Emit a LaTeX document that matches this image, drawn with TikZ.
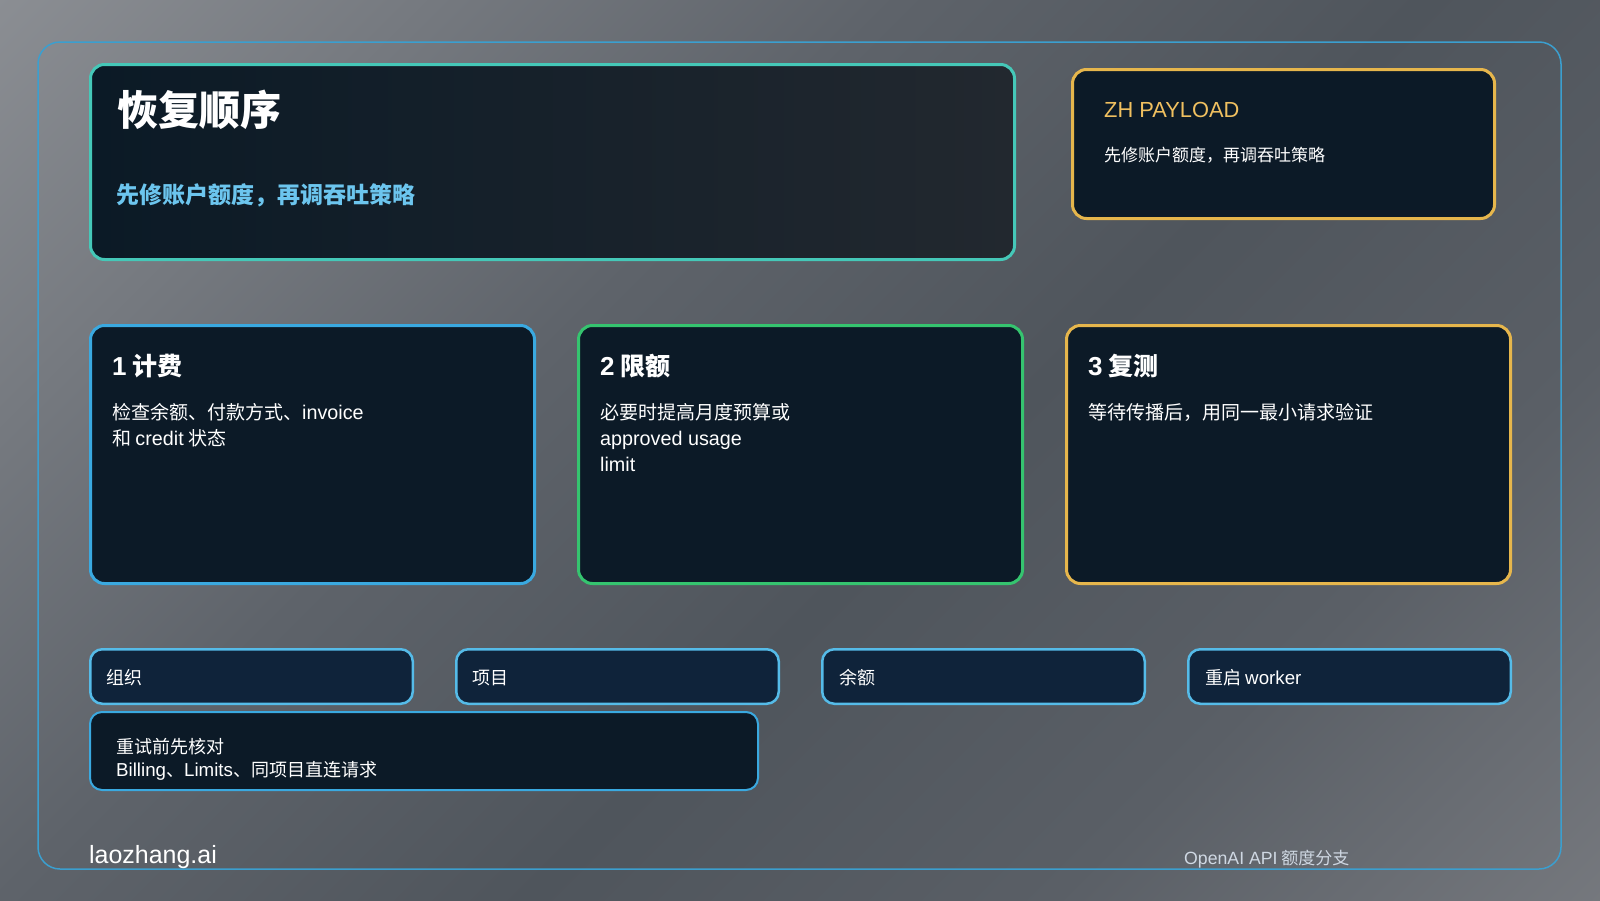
\documentclass[tikz,border=0pt]{standalone}
\usepackage{fontspec}
\setmainfont{Noto Sans CJK SC}
\newfontfamily\latin[Scale=1.04]{Liberation Sans}
\usetikzlibrary{positioning}
\definecolor{bgA}{HTML}{A4A6AA}
\definecolor{bgB}{HTML}{5E636A}
\definecolor{bgC}{HTML}{4F555C}
\definecolor{bgD}{HTML}{5A5F66}
\definecolor{bgE}{HTML}{8E8F93}
\definecolor{frameline}{HTML}{3B9FCF}
\definecolor{tealline}{HTML}{45C8B8}
\definecolor{blueline}{HTML}{3AA9E0}
\definecolor{greenline}{HTML}{35C46F}
\definecolor{goldline}{HTML}{E6B64C}
\definecolor{chipline}{HTML}{55BBE8}
\definecolor{cardfill}{HTML}{0C1A27}
\definecolor{chipfill}{HTML}{0F233A}
\definecolor{heroleft}{HTML}{0B1A26}
\definecolor{heroright}{HTML}{22282F}
\definecolor{subblue}{HTML}{6CC5EE}
\definecolor{goldtext}{HTML}{F0C060}
\definecolor{captext}{HTML}{CFD8E3}
\pgfdeclarehorizontalshading{bgshade}{100bp}{color(0bp)=(bgA); color(40bp)=(bgB); color(55bp)=(bgC); color(70bp)=(bgD); color(100bp)=(bgE)}
\newcommand{\lt}[1]{{\latin #1}}
\tikzstyle{panel} = [rectangle,
			draw,
			rounded corners = 14pt,
			line width = 3pt,
			inner sep = 0pt,
			anchor = north west]
\tikzstyle{card} = [panel,
			fill = cardfill,
			minimum width = 444pt,
			minimum height = 258pt]
\tikzstyle{chip} = [rectangle,
			draw = chipline,
			fill = chipfill,
			rounded corners = 12pt,
			line width = 2.5pt,
			inner sep = 0pt,
			minimum width = 322.5pt,
			minimum height = 54.5pt]
\tikzstyle{txt} = [text = white, inner sep = 0pt, anchor = west]
\tikzstyle{body} = [txt, anchor = north west, align = left,
			font = \fontsize{19}{26}\selectfont]
\tikzstyle{cardtitle} = [txt, font = \fontsize{25}{25}\selectfont\bfseries]
\tikzstyle{chiptext} = [txt, font = \fontsize{18}{18}\selectfont]

\begin{document}
\begin{tikzpicture}[x = 1pt, y = -1pt]
	\useasboundingbox (0,0) rectangle (1600,900);
	\shade [shading = bgshade, shading angle = -45] (0,0) rectangle (1600,900);
	\draw [frameline, line width = 1.5pt, rounded corners = 22pt] (38,42) rectangle (1561,869);
	% top row
	\node [panel, draw = tealline, left color = heroleft, right color = heroright,
		minimum width = 924pt, minimum height = 195pt] (hero) at (89,63) {};
	\node [txt, font = \fontsize{41}{41}\selectfont\bfseries] (herotitle)
		at ([shift = {(28,47)}]hero.north west) {恢复顺序};
	\node [txt, text = subblue, font = \fontsize{23}{23}\selectfont\bfseries] (herosub)
		at ([shift = {(27,132)}]hero.north west) {先修账户额度，再调吞吐策略};
	\node [panel, draw = goldline, fill = cardfill,
		minimum width = 422pt, minimum height = 149pt] (payload) at (1071,68) {};
	\node [txt, text = goldtext, font = \fontsize{21}{21}\selectfont\latin] (payloadtitle)
		at ([shift = {(33,42)}]payload.north west) {ZH PAYLOAD};
	\node [txt, font = \fontsize{17}{17}\selectfont] (payloadsub)
		at ([shift = {(33,87)}]payload.north west) {先修账户额度，再调吞吐策略};
	% step cards
	\node [card, draw = blueline] (billing) at (89,324) {};
	\node [card, draw = greenline, right = 41pt of billing] (limits) {};
	\node [card, draw = goldline, right = 41pt of limits] (retest) {};
	\node [cardtitle] (billingtitle) at ([shift = {(23,42)}]billing.north west) {\lt{1} 计费};
	\node [body] (billingbody) at ([shift = {(23,79)}]billing.north west)
		{检查余额、付款方式、\lt{invoice}\\和 \lt{credit} 状态};
	\node [cardtitle] (limitstitle) at ([shift = {(23,42)}]limits.north west) {\lt{2} 限额};
	\node [body] (limitsbody) at ([shift = {(23,79)}]limits.north west)
		{必要时提高月度预算或\\\lt{approved usage}\\\lt{limit}};
	\node [cardtitle] (retesttitle) at ([shift = {(23,42)}]retest.north west) {\lt{3} 复测};
	\node [body] (retestbody) at ([shift = {(23,79)}]retest.north west)
		{等待传播后，用同一最小请求验证};
	% scope chips
	\node [chip, anchor = north west] (org) at (89,648) {};
	\node [chip, right = 41pt of org] (project) {};
	\node [chip, right = 41pt of project] (balance) {};
	\node [chip, right = 41pt of balance] (restart) {};
	\node [chiptext] (orgtext) at ([shift = {(17,30)}]org.north west) {组织};
	\node [chiptext] (projecttext) at ([shift = {(17,30)}]project.north west) {项目};
	\node [chiptext] (balancetext) at ([shift = {(18,30)}]balance.north west) {余额};
	\node [chiptext] (restarttext) at ([shift = {(18,30)}]restart.north west) {重启 \lt{worker}};
	\node [chip, draw = blueline, fill = cardfill, line width = 2pt, minimum width = 668pt,
		minimum height = 78pt, below right = 6pt and 0pt of org.south west] (note) {};
	\node [body, font = \fontsize{18}{23.5}\selectfont] (notetext)
		at ([shift = {(27,27)}]note.north west) {重试前先核对\\\lt{Billing}、\lt{Limits}、同项目直连请求};
	% footer
	\node [txt, font = \fontsize{24}{24}\selectfont\latin] (brand) at (89,857) {laozhang.ai};
	\node [txt, text = captext, font = \fontsize{17}{17}\selectfont] (caption) at (1184,859)
		{\lt{OpenAI API} 额度分支};
\end{tikzpicture}
\end{document}
